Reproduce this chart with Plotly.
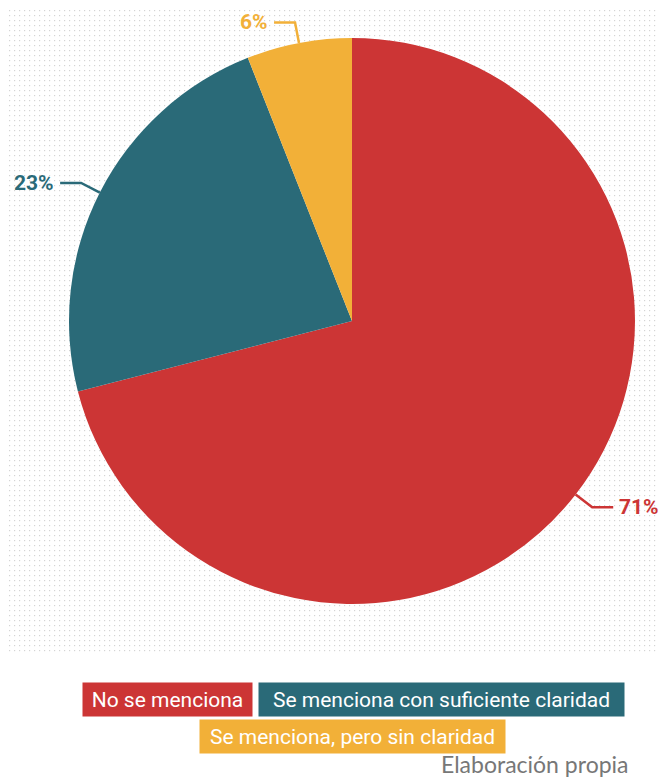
import math
import base64
import plotly.graph_objects as go

# ---- data ----
categories = ["No se menciona", "Se menciona con suficiente claridad", "Se menciona, pero sin claridad"]
values = [71, 23, 6]
colors = ["#CC3535", "#2A6A78", "#F2B038"]
pct_labels = ["71%", "23%", "6%"]
source_text = "Elaboración propia"

W, H = 664, 780
CX, CY, R = 352, 321, 283  # pie center/radius in px (layout)

def px(x):
    return x / W

def py(y):
    return 1 - y / H

fig = go.Figure()
fig.add_trace(go.Pie(
    labels=categories, values=values, sort=False, direction="clockwise", rotation=0,
    marker=dict(colors=colors, line=dict(width=0)),
    textinfo="none", hoverinfo="label+percent", showlegend=False,
    domain=dict(x=[px(CX - R), px(CX + R)], y=[py(CY + R), py(CY - R)]),
))

# dotted background via svg pattern
svg = ('<svg xmlns="http://www.w3.org/2000/svg" width="650" height="644">'
       '<defs><pattern id="p" width="5" height="5" patternUnits="userSpaceOnUse">'
       '<rect x="2" y="2" width="1.2" height="1.2" fill="#d4d4d4"/></pattern></defs>'
       '<rect width="650" height="644" fill="url(#p)"/></svg>')
uri = "data:image/svg+xml;base64," + base64.b64encode(svg.encode()).decode()
fig.add_layout_image(dict(source=uri, xref="paper", yref="paper", x=px(7), y=py(8),
                          sizex=650 / W, sizey=644 / H, xanchor="left", yanchor="top",
                          sizing="stretch", layer="below"))

# leader lines and labels, derived from slice angles
total = sum(values)
cum = 0
shapes = []
annotations = []
label_font = "Roboto, sans-serif"
for v, c, lab in zip(values, colors, pct_labels):
    mid = (cum + v / 2) / total * 2 * math.pi
    cum += v
    sx, sy = math.sin(mid), -math.cos(mid)
    x0, y0 = CX + R * sx, CY + R * sy
    x1, y1 = CX + (R + 21) * sx, CY + (R + 21) * sy
    side = 1 if sx >= 0 else -1
    x2 = x1 + side * 21
    shapes.append(dict(type="path", xref="paper", yref="paper",
                       path=f"M {px(x0)},{py(y0)} L {px(x1)},{py(y1)} L {px(x2)},{py(y1)}",
                       line=dict(color=c, width=2.5)))
    annotations.append(dict(x=px(x2 + side * 4), y=py(y1), xref="paper", yref="paper",
                            text=f"<b>{lab}</b>", showarrow=False,
                            xanchor="left" if side > 0 else "right", yanchor="middle",
                            font=dict(family=label_font, size=21, color=c)))

# legend boxes
leg_font = dict(family=label_font, size=21, color="white")
boxes = [(83, 252, 683, 716), (259, 624, 683, 716), (200, 505, 720, 753)]
for (bx0, bx1, by0, by1), cat, col in zip(boxes, categories, colors):
    annotations.append(dict(x=px((bx0 + bx1) / 2), y=py((by0 + by1) / 2), xref="paper", yref="paper",
                            text=cat, showarrow=False, bgcolor=col, borderpad=0,
                            width=bx1 - bx0, height=by1 - by0, font=leg_font,
                            xanchor="center", yanchor="middle"))
annotations.append(dict(x=px(631), y=py(764), xref="paper", yref="paper", text=source_text,
                        showarrow=False, font=dict(family="Lato, sans-serif", size=23, color="#777777"),
                        xanchor="right", yanchor="middle"))

fig.update_layout(width=W, height=H, margin=dict(l=0, r=0, t=0, b=0),
                  paper_bgcolor="white", plot_bgcolor="white",
                  shapes=shapes, annotations=annotations)
fig.write_html("out.html", config={"displayModeBar": False},
               post_script="document.body.style.margin='0';document.body.style.overflow='hidden';")
